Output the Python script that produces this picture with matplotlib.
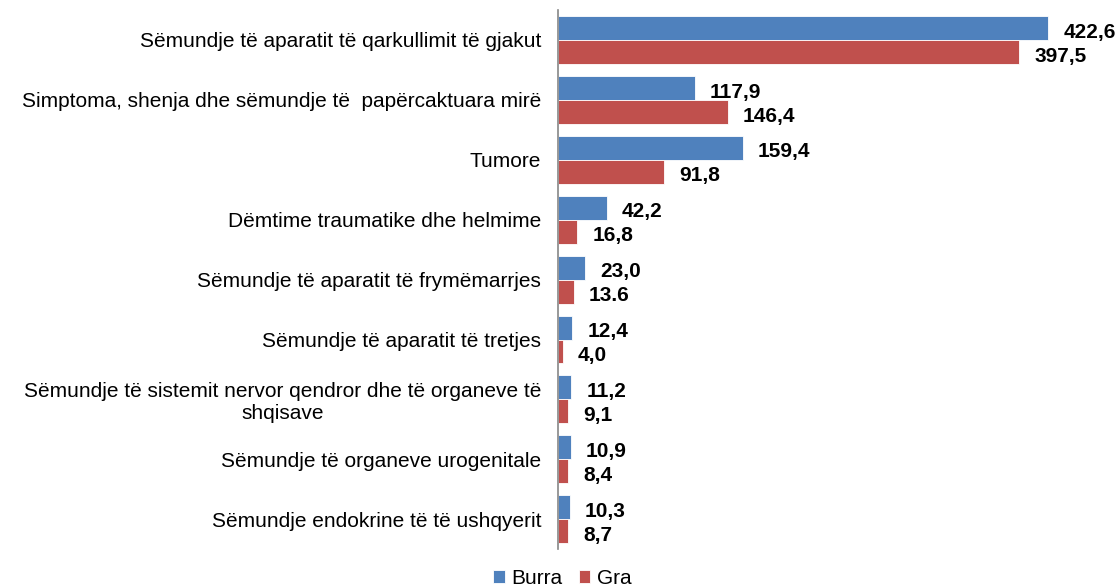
import numpy as np
import matplotlib.pyplot as plt

plt.rcParams['font.family'] = ['Liberation Sans', 'DejaVu Sans']

# Data (top to bottom as in the chart)
categories = [
    'Sëmundje të aparatit të qarkullimit të gjakut',
    'Simptoma, shenja dhe sëmundje të  papërcaktuara mirë',
    'Tumore',
    'Dëmtime traumatike dhe helmime',
    'Sëmundje të aparatit të frymëmarrjes',
    'Sëmundje të aparatit të tretjes',
    'Sëmundje të sistemit nervor qendror dhe të organeve të\nshqisave',
    'Sëmundje të organeve urogenitale',
    'Sëmundje endokrine të të ushqyerit',
]
burra = [422.6, 117.9, 159.4, 42.2, 23.0, 12.4, 11.2, 10.9, 10.3]
gra = [397.5, 146.4, 91.8, 16.8, 13.6, 4.0, 9.1, 8.4, 8.7]
burra_labels = ['422,6', '117,9', '159,4', '42,2', '23,0', '12,4', '11,2', '10,9', '10,3']
gra_labels = ['397,5', '146,4', '91,8', '16,8', '13.6', '4,0', '9,1', '8,4', '8,7']

BLUE = '#4F81BD'
RED = '#C0504D'

fig = plt.figure(figsize=(11.18, 5.88), dpi=100)
ax = fig.add_axes([0.499, 0.066, 0.467, 0.917])

y = np.arange(len(categories))
h = 0.4
b1 = ax.barh(y - h/2, burra, height=h, color=BLUE, edgecolor='white', linewidth=0.6, label='Burra')
b2 = ax.barh(y + h/2, gra, height=h, color=RED, edgecolor='white', linewidth=0.6, label='Gra')

# Value labels
for yi, v, lab in zip(y, burra, burra_labels):
    ax.annotate(lab, (v, yi - h/2), xytext=(11, -3), textcoords='offset points',
                ha='left', va='center', fontsize=15, fontweight='bold', annotation_clip=False)
for yi, v, lab in zip(y, gra, gra_labels):
    ax.annotate(lab, (v, yi + h/2), xytext=(11, -3), textcoords='offset points',
                ha='left', va='center', fontsize=15, fontweight='bold', annotation_clip=False)

ax.set_xlim(0, 450)
ax.set_ylim(len(categories) - 0.5, -0.5)
ax.set_yticks(y)
ax.set_yticklabels(categories, fontsize=15, multialignment='center')
ax.tick_params(axis='y', length=0, pad=12)
ax.set_xticks([])

for s in ['top', 'right', 'bottom']:
    ax.spines[s].set_visible(False)
ax.spines['left'].set_color('#868686')
ax.spines['left'].set_linewidth(1.2)

fig.legend(handles=[b1, b2], loc='lower center', bbox_to_anchor=(0.503, -0.032), ncol=2,
           frameon=False, fontsize=15, handlelength=0.55, handleheight=0.55,
           handletextpad=0.3, columnspacing=0.8)

fig.savefig('out.png', dpi=100)
